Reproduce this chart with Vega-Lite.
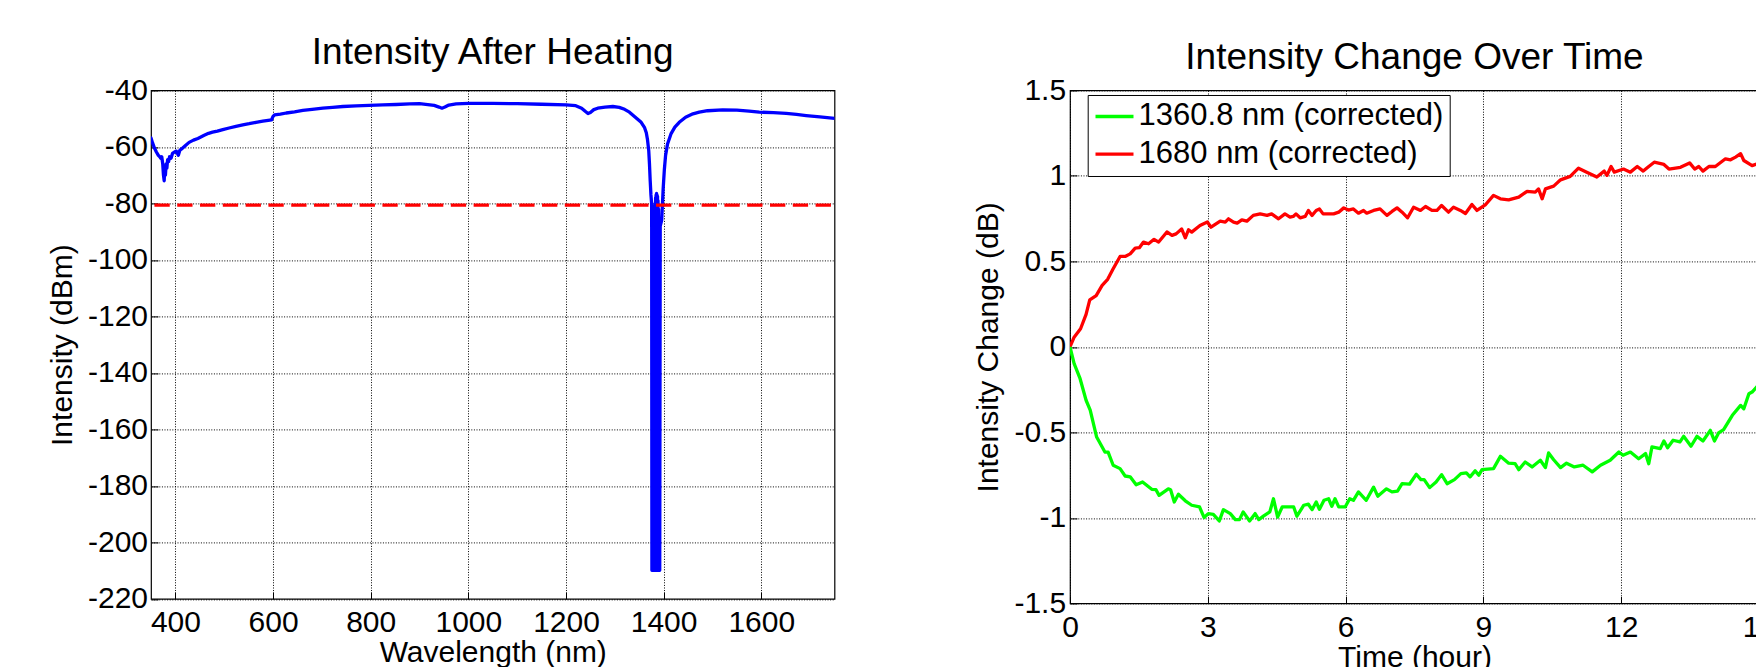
{
  "$schema": "https://vega.github.io/schema/vega-lite/v6.json",
  "padding": {"left": 46, "top": 33.4, "right": 0, "bottom": 0},
  "background": "#ffffff",
  "resolve": {"legend": {"color": "independent"}, "scale": {"color": "independent"}},
  "config": {
    "font": "Liberation Sans",
    "view": {"stroke": "#000000", "strokeWidth": 1.2},
    "axis": {
      "grid": true, "gridColor": "#000000", "gridDash": [1, 1.6], "gridWidth": 1, "gridOpacity": 1,
      "domain": false, "ticks": true, "tickSize": -7, "tickColor": "#000000", "tickWidth": 1,
      "labelFontSize": 30, "labelColor": "#000000", "labelOverlap": false, "labelFlush": false,
      "titleFontSize": 30, "titleFontWeight": "normal", "titleColor": "#000000",
      "labelExpr": "'' + datum.value"
    },
    "title": {"fontSize": 37, "fontWeight": "normal", "color": "#000000", "baseline": "alphabetic", "anchor": "middle", "frame": "group"},
    "concat": {"spacing": 136}
  },
  "datasets": {
    "spectrum": [
      {"wavelength": 350, "intensity": -56.8}, {"wavelength": 353, "intensity": -58.5}, {"wavelength": 357, "intensity": -60.4},
      {"wavelength": 361, "intensity": -61.8}, {"wavelength": 365, "intensity": -63}, {"wavelength": 368, "intensity": -63.5},
      {"wavelength": 370, "intensity": -64}, {"wavelength": 372, "intensity": -63.5}, {"wavelength": 374, "intensity": -66},
      {"wavelength": 375.5, "intensity": -70}, {"wavelength": 377, "intensity": -72}, {"wavelength": 378, "intensity": -68},
      {"wavelength": 379.5, "intensity": -70}, {"wavelength": 381, "intensity": -66}, {"wavelength": 382.5, "intensity": -67.5},
      {"wavelength": 384, "intensity": -64.5}, {"wavelength": 386, "intensity": -65.2}, {"wavelength": 388, "intensity": -63.5},
      {"wavelength": 391, "intensity": -64}, {"wavelength": 394, "intensity": -62.3}, {"wavelength": 398, "intensity": -61.8},
      {"wavelength": 402, "intensity": -61.5}, {"wavelength": 406, "intensity": -63}, {"wavelength": 409, "intensity": -61.2},
      {"wavelength": 412, "intensity": -60.8}, {"wavelength": 420, "intensity": -59.6}, {"wavelength": 428, "intensity": -58.4},
      {"wavelength": 437, "intensity": -57.6}, {"wavelength": 446, "intensity": -57}, {"wavelength": 459, "intensity": -55.9},
      {"wavelength": 468, "intensity": -55.2}, {"wavelength": 476, "intensity": -54.8}, {"wavelength": 486, "intensity": -54.4},
      {"wavelength": 497, "intensity": -53.9}, {"wavelength": 510, "intensity": -53.3}, {"wavelength": 524, "intensity": -52.7},
      {"wavelength": 538, "intensity": -52.2}, {"wavelength": 551, "intensity": -51.8}, {"wavelength": 565, "intensity": -51.3},
      {"wavelength": 579, "intensity": -50.9}, {"wavelength": 590, "intensity": -50.6}, {"wavelength": 597, "intensity": -50.4},
      {"wavelength": 600, "intensity": -49.2}, {"wavelength": 603, "intensity": -48.7}, {"wavelength": 615, "intensity": -48.4},
      {"wavelength": 627, "intensity": -48}, {"wavelength": 644, "intensity": -47.6}, {"wavelength": 661, "intensity": -47.1},
      {"wavelength": 680, "intensity": -46.7}, {"wavelength": 702, "intensity": -46.3}, {"wavelength": 722, "intensity": -46},
      {"wavelength": 743, "intensity": -45.7}, {"wavelength": 770, "intensity": -45.5}, {"wavelength": 797, "intensity": -45.3},
      {"wavelength": 825, "intensity": -45.1}, {"wavelength": 852, "intensity": -45}, {"wavelength": 880, "intensity": -44.8},
      {"wavelength": 900, "intensity": -44.7}, {"wavelength": 917, "intensity": -45}, {"wavelength": 930, "intensity": -45.3},
      {"wavelength": 940, "intensity": -45.9}, {"wavelength": 946, "intensity": -46.3}, {"wavelength": 952, "intensity": -45.9},
      {"wavelength": 960, "intensity": -45.2}, {"wavelength": 975, "intensity": -44.8}, {"wavelength": 1000, "intensity": -44.6},
      {"wavelength": 1050, "intensity": -44.6}, {"wavelength": 1100, "intensity": -44.7}, {"wavelength": 1150, "intensity": -44.9},
      {"wavelength": 1200, "intensity": -45.1}, {"wavelength": 1220, "intensity": -45.4}, {"wavelength": 1232, "intensity": -46.3},
      {"wavelength": 1240, "intensity": -47.5}, {"wavelength": 1245, "intensity": -48.2}, {"wavelength": 1250, "intensity": -47.8},
      {"wavelength": 1257, "intensity": -46.8}, {"wavelength": 1265, "intensity": -46.3}, {"wavelength": 1280, "intensity": -45.9},
      {"wavelength": 1296, "intensity": -45.7}, {"wavelength": 1309, "intensity": -46}, {"wavelength": 1320, "intensity": -46.7},
      {"wavelength": 1330, "intensity": -47.7}, {"wavelength": 1342, "intensity": -49.5}, {"wavelength": 1354, "intensity": -51.3},
      {"wavelength": 1361, "intensity": -53.2}, {"wavelength": 1364.5, "intensity": -55}, {"wavelength": 1367, "intensity": -57.5},
      {"wavelength": 1369.5, "intensity": -61.3}, {"wavelength": 1371, "intensity": -66}, {"wavelength": 1372.5, "intensity": -72},
      {"wavelength": 1374, "intensity": -77}, {"wavelength": 1375.5, "intensity": -80.2},
      {"wavelength": 1376, "intensity": -209.9}, {"wavelength": 1376.5, "intensity": -81},
      {"wavelength": 1377, "intensity": -209.9}, {"wavelength": 1377.5, "intensity": -84},
      {"wavelength": 1378, "intensity": -209.9}, {"wavelength": 1378.5, "intensity": -86},
      {"wavelength": 1379, "intensity": -209.9}, {"wavelength": 1379.5, "intensity": -88},
      {"wavelength": 1380, "intensity": -209.9}, {"wavelength": 1380.5, "intensity": -86},
      {"wavelength": 1381, "intensity": -209.9}, {"wavelength": 1381.5, "intensity": -83},
      {"wavelength": 1382, "intensity": -209.9}, {"wavelength": 1382.5, "intensity": -80},
      {"wavelength": 1383, "intensity": -209.9}, {"wavelength": 1383.5, "intensity": -78},
      {"wavelength": 1384, "intensity": -209.9}, {"wavelength": 1384.5, "intensity": -77},
      {"wavelength": 1385, "intensity": -209.9}, {"wavelength": 1385.5, "intensity": -76.5},
      {"wavelength": 1386, "intensity": -209.9}, {"wavelength": 1386.5, "intensity": -77},
      {"wavelength": 1387, "intensity": -209.9}, {"wavelength": 1387.5, "intensity": -77.5},
      {"wavelength": 1388, "intensity": -209.9}, {"wavelength": 1388.5, "intensity": -79},
      {"wavelength": 1389, "intensity": -209.9}, {"wavelength": 1389.5, "intensity": -82},
      {"wavelength": 1390, "intensity": -209.9}, {"wavelength": 1390.5, "intensity": -86},
      {"wavelength": 1391, "intensity": -209.9}, {"wavelength": 1391.5, "intensity": -88},
      {"wavelength": 1392, "intensity": -209.9}, {"wavelength": 1393, "intensity": -88},
      {"wavelength": 1396, "intensity": -86}, {"wavelength": 1399, "intensity": -75}, {"wavelength": 1401.5, "intensity": -68},
      {"wavelength": 1404, "intensity": -63}, {"wavelength": 1408, "intensity": -59}, {"wavelength": 1415, "intensity": -55.4},
      {"wavelength": 1423, "intensity": -53}, {"wavelength": 1432, "intensity": -51.3}, {"wavelength": 1445, "intensity": -49.5},
      {"wavelength": 1460, "intensity": -48.3}, {"wavelength": 1473, "intensity": -47.7}, {"wavelength": 1490, "intensity": -47.2},
      {"wavelength": 1521, "intensity": -46.9}, {"wavelength": 1550, "intensity": -47}, {"wavelength": 1575, "intensity": -47.3},
      {"wavelength": 1596, "intensity": -47.7}, {"wavelength": 1625, "intensity": -47.9}, {"wavelength": 1651, "intensity": -48.1},
      {"wavelength": 1672, "intensity": -48.5}, {"wavelength": 1692, "intensity": -48.9}, {"wavelength": 1720, "intensity": -49.4},
      {"wavelength": 1750, "intensity": -49.9}
    ],
    "threshold": [
      {"start": 357, "end": 1750, "level": -80.6}
    ],
    "timeseries": [
      {"hour": 0, "change": 0, "series": "1680 nm (corrected)"},
      {"hour": 0.09, "change": 0.057, "series": "1680 nm (corrected)"},
      {"hour": 0.23, "change": 0.106, "series": "1680 nm (corrected)"},
      {"hour": 0.35, "change": 0.19, "series": "1680 nm (corrected)"},
      {"hour": 0.43, "change": 0.275, "series": "1680 nm (corrected)"},
      {"hour": 0.57, "change": 0.3, "series": "1680 nm (corrected)"},
      {"hour": 0.7, "change": 0.36, "series": "1680 nm (corrected)"},
      {"hour": 0.82, "change": 0.395, "series": "1680 nm (corrected)"},
      {"hour": 0.94, "change": 0.457, "series": "1680 nm (corrected)"},
      {"hour": 1.09, "change": 0.529, "series": "1680 nm (corrected)"},
      {"hour": 1.2, "change": 0.529, "series": "1680 nm (corrected)"},
      {"hour": 1.31, "change": 0.544, "series": "1680 nm (corrected)"},
      {"hour": 1.42, "change": 0.578, "series": "1680 nm (corrected)"},
      {"hour": 1.51, "change": 0.58, "series": "1680 nm (corrected)"},
      {"hour": 1.6, "change": 0.613, "series": "1680 nm (corrected)"},
      {"hour": 1.71, "change": 0.603, "series": "1680 nm (corrected)"},
      {"hour": 1.83, "change": 0.629, "series": "1680 nm (corrected)"},
      {"hour": 1.93, "change": 0.613, "series": "1680 nm (corrected)"},
      {"hour": 2.11, "change": 0.672, "series": "1680 nm (corrected)"},
      {"hour": 2.22, "change": 0.652, "series": "1680 nm (corrected)"},
      {"hour": 2.31, "change": 0.661, "series": "1680 nm (corrected)"},
      {"hour": 2.43, "change": 0.69, "series": "1680 nm (corrected)"},
      {"hour": 2.51, "change": 0.638, "series": "1680 nm (corrected)"},
      {"hour": 2.58, "change": 0.685, "series": "1680 nm (corrected)"},
      {"hour": 2.65, "change": 0.671, "series": "1680 nm (corrected)"},
      {"hour": 2.83, "change": 0.71, "series": "1680 nm (corrected)"},
      {"hour": 2.99, "change": 0.73, "series": "1680 nm (corrected)"},
      {"hour": 3.07, "change": 0.7, "series": "1680 nm (corrected)"},
      {"hour": 3.27, "change": 0.735, "series": "1680 nm (corrected)"},
      {"hour": 3.38, "change": 0.73, "series": "1680 nm (corrected)"},
      {"hour": 3.45, "change": 0.749, "series": "1680 nm (corrected)"},
      {"hour": 3.56, "change": 0.73, "series": "1680 nm (corrected)"},
      {"hour": 3.64, "change": 0.724, "series": "1680 nm (corrected)"},
      {"hour": 3.74, "change": 0.743, "series": "1680 nm (corrected)"},
      {"hour": 3.85, "change": 0.735, "series": "1680 nm (corrected)"},
      {"hour": 3.99, "change": 0.769, "series": "1680 nm (corrected)"},
      {"hour": 4.14, "change": 0.778, "series": "1680 nm (corrected)"},
      {"hour": 4.29, "change": 0.769, "series": "1680 nm (corrected)"},
      {"hour": 4.39, "change": 0.778, "series": "1680 nm (corrected)"},
      {"hour": 4.54, "change": 0.749, "series": "1680 nm (corrected)"},
      {"hour": 4.68, "change": 0.778, "series": "1680 nm (corrected)"},
      {"hour": 4.79, "change": 0.759, "series": "1680 nm (corrected)"},
      {"hour": 4.86, "change": 0.763, "series": "1680 nm (corrected)"},
      {"hour": 4.92, "change": 0.778, "series": "1680 nm (corrected)"},
      {"hour": 5.01, "change": 0.755, "series": "1680 nm (corrected)"},
      {"hour": 5.12, "change": 0.763, "series": "1680 nm (corrected)"},
      {"hour": 5.19, "change": 0.798, "series": "1680 nm (corrected)"},
      {"hour": 5.27, "change": 0.769, "series": "1680 nm (corrected)"},
      {"hour": 5.36, "change": 0.798, "series": "1680 nm (corrected)"},
      {"hour": 5.43, "change": 0.807, "series": "1680 nm (corrected)"},
      {"hour": 5.51, "change": 0.778, "series": "1680 nm (corrected)"},
      {"hour": 5.63, "change": 0.778, "series": "1680 nm (corrected)"},
      {"hour": 5.74, "change": 0.778, "series": "1680 nm (corrected)"},
      {"hour": 5.85, "change": 0.788, "series": "1680 nm (corrected)"},
      {"hour": 5.96, "change": 0.813, "series": "1680 nm (corrected)"},
      {"hour": 6.06, "change": 0.8, "series": "1680 nm (corrected)"},
      {"hour": 6.17, "change": 0.807, "series": "1680 nm (corrected)"},
      {"hour": 6.28, "change": 0.782, "series": "1680 nm (corrected)"},
      {"hour": 6.39, "change": 0.798, "series": "1680 nm (corrected)"},
      {"hour": 6.46, "change": 0.782, "series": "1680 nm (corrected)"},
      {"hour": 6.61, "change": 0.798, "series": "1680 nm (corrected)"},
      {"hour": 6.75, "change": 0.807, "series": "1680 nm (corrected)"},
      {"hour": 6.9, "change": 0.769, "series": "1680 nm (corrected)"},
      {"hour": 7.01, "change": 0.792, "series": "1680 nm (corrected)"},
      {"hour": 7.12, "change": 0.813, "series": "1680 nm (corrected)"},
      {"hour": 7.23, "change": 0.788, "series": "1680 nm (corrected)"},
      {"hour": 7.35, "change": 0.755, "series": "1680 nm (corrected)"},
      {"hour": 7.48, "change": 0.817, "series": "1680 nm (corrected)"},
      {"hour": 7.63, "change": 0.798, "series": "1680 nm (corrected)"},
      {"hour": 7.74, "change": 0.821, "series": "1680 nm (corrected)"},
      {"hour": 7.88, "change": 0.798, "series": "1680 nm (corrected)"},
      {"hour": 7.99, "change": 0.798, "series": "1680 nm (corrected)"},
      {"hour": 8.09, "change": 0.827, "series": "1680 nm (corrected)"},
      {"hour": 8.24, "change": 0.788, "series": "1680 nm (corrected)"},
      {"hour": 8.35, "change": 0.817, "series": "1680 nm (corrected)"},
      {"hour": 8.5, "change": 0.798, "series": "1680 nm (corrected)"},
      {"hour": 8.61, "change": 0.78, "series": "1680 nm (corrected)"},
      {"hour": 8.75, "change": 0.833, "series": "1680 nm (corrected)"},
      {"hour": 8.86, "change": 0.798, "series": "1680 nm (corrected)"},
      {"hour": 9.04, "change": 0.83, "series": "1680 nm (corrected)"},
      {"hour": 9.22, "change": 0.886, "series": "1680 nm (corrected)"},
      {"hour": 9.37, "change": 0.866, "series": "1680 nm (corrected)"},
      {"hour": 9.55, "change": 0.86, "series": "1680 nm (corrected)"},
      {"hour": 9.77, "change": 0.876, "series": "1680 nm (corrected)"},
      {"hour": 9.95, "change": 0.91, "series": "1680 nm (corrected)"},
      {"hour": 10.13, "change": 0.905, "series": "1680 nm (corrected)"},
      {"hour": 10.2, "change": 0.924, "series": "1680 nm (corrected)"},
      {"hour": 10.28, "change": 0.866, "series": "1680 nm (corrected)"},
      {"hour": 10.35, "change": 0.924, "series": "1680 nm (corrected)"},
      {"hour": 10.53, "change": 0.94, "series": "1680 nm (corrected)"},
      {"hour": 10.68, "change": 0.977, "series": "1680 nm (corrected)"},
      {"hour": 10.89, "change": 0.997, "series": "1680 nm (corrected)"},
      {"hour": 11.07, "change": 1.045, "series": "1680 nm (corrected)"},
      {"hour": 11.25, "change": 1.022, "series": "1680 nm (corrected)"},
      {"hour": 11.47, "change": 0.993, "series": "1680 nm (corrected)"},
      {"hour": 11.63, "change": 1.028, "series": "1680 nm (corrected)"},
      {"hour": 11.69, "change": 1.003, "series": "1680 nm (corrected)"},
      {"hour": 11.78, "change": 1.055, "series": "1680 nm (corrected)"},
      {"hour": 11.85, "change": 1.022, "series": "1680 nm (corrected)"},
      {"hour": 12.05, "change": 1.04, "series": "1680 nm (corrected)"},
      {"hour": 12.2, "change": 1.022, "series": "1680 nm (corrected)"},
      {"hour": 12.35, "change": 1.055, "series": "1680 nm (corrected)"},
      {"hour": 12.48, "change": 1.028, "series": "1680 nm (corrected)"},
      {"hour": 12.6, "change": 1.055, "series": "1680 nm (corrected)"},
      {"hour": 12.72, "change": 1.08, "series": "1680 nm (corrected)"},
      {"hour": 12.93, "change": 1.067, "series": "1680 nm (corrected)"},
      {"hour": 13.04, "change": 1.04, "series": "1680 nm (corrected)"},
      {"hour": 13.29, "change": 1.05, "series": "1680 nm (corrected)"},
      {"hour": 13.49, "change": 1.076, "series": "1680 nm (corrected)"},
      {"hour": 13.6, "change": 1.04, "series": "1680 nm (corrected)"},
      {"hour": 13.69, "change": 1.055, "series": "1680 nm (corrected)"},
      {"hour": 13.78, "change": 1.028, "series": "1680 nm (corrected)"},
      {"hour": 13.91, "change": 1.055, "series": "1680 nm (corrected)"},
      {"hour": 14.05, "change": 1.055, "series": "1680 nm (corrected)"},
      {"hour": 14.27, "change": 1.1, "series": "1680 nm (corrected)"},
      {"hour": 14.38, "change": 1.094, "series": "1680 nm (corrected)"},
      {"hour": 14.49, "change": 1.11, "series": "1680 nm (corrected)"},
      {"hour": 14.6, "change": 1.13, "series": "1680 nm (corrected)"},
      {"hour": 14.67, "change": 1.09, "series": "1680 nm (corrected)"},
      {"hour": 14.85, "change": 1.06, "series": "1680 nm (corrected)"},
      {"hour": 15, "change": 1.075, "series": "1680 nm (corrected)"},
      {"hour": 0, "change": 0, "series": "1360.8 nm (corrected)"},
      {"hour": 0.09, "change": -0.098, "series": "1360.8 nm (corrected)"},
      {"hour": 0.22, "change": -0.186, "series": "1360.8 nm (corrected)"},
      {"hour": 0.35, "change": -0.312, "series": "1360.8 nm (corrected)"},
      {"hour": 0.44, "change": -0.37, "series": "1360.8 nm (corrected)"},
      {"hour": 0.58, "change": -0.527, "series": "1360.8 nm (corrected)"},
      {"hour": 0.76, "change": -0.615, "series": "1360.8 nm (corrected)"},
      {"hour": 0.83, "change": -0.615, "series": "1360.8 nm (corrected)"},
      {"hour": 0.94, "change": -0.692, "series": "1360.8 nm (corrected)"},
      {"hour": 1.09, "change": -0.712, "series": "1360.8 nm (corrected)"},
      {"hour": 1.2, "change": -0.755, "series": "1360.8 nm (corrected)"},
      {"hour": 1.31, "change": -0.76, "series": "1360.8 nm (corrected)"},
      {"hour": 1.44, "change": -0.806, "series": "1360.8 nm (corrected)"},
      {"hour": 1.58, "change": -0.79, "series": "1360.8 nm (corrected)"},
      {"hour": 1.78, "change": -0.833, "series": "1360.8 nm (corrected)"},
      {"hour": 1.87, "change": -0.835, "series": "1360.8 nm (corrected)"},
      {"hour": 1.94, "change": -0.868, "series": "1360.8 nm (corrected)"},
      {"hour": 2.14, "change": -0.83, "series": "1360.8 nm (corrected)"},
      {"hour": 2.19, "change": -0.835, "series": "1360.8 nm (corrected)"},
      {"hour": 2.27, "change": -0.907, "series": "1360.8 nm (corrected)"},
      {"hour": 2.36, "change": -0.862, "series": "1360.8 nm (corrected)"},
      {"hour": 2.51, "change": -0.9, "series": "1360.8 nm (corrected)"},
      {"hour": 2.65, "change": -0.926, "series": "1360.8 nm (corrected)"},
      {"hour": 2.82, "change": -0.936, "series": "1360.8 nm (corrected)"},
      {"hour": 2.92, "change": -0.998, "series": "1360.8 nm (corrected)"},
      {"hour": 3.01, "change": -0.975, "series": "1360.8 nm (corrected)"},
      {"hour": 3.12, "change": -0.979, "series": "1360.8 nm (corrected)"},
      {"hour": 3.25, "change": -1.018, "series": "1360.8 nm (corrected)"},
      {"hour": 3.34, "change": -0.952, "series": "1360.8 nm (corrected)"},
      {"hour": 3.49, "change": -0.975, "series": "1360.8 nm (corrected)"},
      {"hour": 3.6, "change": -1.01, "series": "1360.8 nm (corrected)"},
      {"hour": 3.69, "change": -1.01, "series": "1360.8 nm (corrected)"},
      {"hour": 3.77, "change": -0.965, "series": "1360.8 nm (corrected)"},
      {"hour": 3.91, "change": -1.018, "series": "1360.8 nm (corrected)"},
      {"hour": 4.03, "change": -0.975, "series": "1360.8 nm (corrected)"},
      {"hour": 4.11, "change": -1.01, "series": "1360.8 nm (corrected)"},
      {"hour": 4.21, "change": -0.99, "series": "1360.8 nm (corrected)"},
      {"hour": 4.35, "change": -0.965, "series": "1360.8 nm (corrected)"},
      {"hour": 4.43, "change": -0.888, "series": "1360.8 nm (corrected)"},
      {"hour": 4.52, "change": -0.995, "series": "1360.8 nm (corrected)"},
      {"hour": 4.62, "change": -0.936, "series": "1360.8 nm (corrected)"},
      {"hour": 4.87, "change": -0.936, "series": "1360.8 nm (corrected)"},
      {"hour": 4.94, "change": -0.99, "series": "1360.8 nm (corrected)"},
      {"hour": 5.09, "change": -0.926, "series": "1360.8 nm (corrected)"},
      {"hour": 5.19, "change": -0.92, "series": "1360.8 nm (corrected)"},
      {"hour": 5.27, "change": -0.952, "series": "1360.8 nm (corrected)"},
      {"hour": 5.36, "change": -0.907, "series": "1360.8 nm (corrected)"},
      {"hour": 5.43, "change": -0.95, "series": "1360.8 nm (corrected)"},
      {"hour": 5.53, "change": -0.897, "series": "1360.8 nm (corrected)"},
      {"hour": 5.63, "change": -0.888, "series": "1360.8 nm (corrected)"},
      {"hour": 5.7, "change": -0.932, "series": "1360.8 nm (corrected)"},
      {"hour": 5.77, "change": -0.888, "series": "1360.8 nm (corrected)"},
      {"hour": 5.85, "change": -0.936, "series": "1360.8 nm (corrected)"},
      {"hour": 5.99, "change": -0.936, "series": "1360.8 nm (corrected)"},
      {"hour": 6.09, "change": -0.888, "series": "1360.8 nm (corrected)"},
      {"hour": 6.17, "change": -0.897, "series": "1360.8 nm (corrected)"},
      {"hour": 6.28, "change": -0.848, "series": "1360.8 nm (corrected)"},
      {"hour": 6.45, "change": -0.897, "series": "1360.8 nm (corrected)"},
      {"hour": 6.61, "change": -0.82, "series": "1360.8 nm (corrected)"},
      {"hour": 6.7, "change": -0.873, "series": "1360.8 nm (corrected)"},
      {"hour": 6.89, "change": -0.83, "series": "1360.8 nm (corrected)"},
      {"hour": 7.01, "change": -0.848, "series": "1360.8 nm (corrected)"},
      {"hour": 7.13, "change": -0.843, "series": "1360.8 nm (corrected)"},
      {"hour": 7.23, "change": -0.8, "series": "1360.8 nm (corrected)"},
      {"hour": 7.39, "change": -0.803, "series": "1360.8 nm (corrected)"},
      {"hour": 7.54, "change": -0.745, "series": "1360.8 nm (corrected)"},
      {"hour": 7.64, "change": -0.776, "series": "1360.8 nm (corrected)"},
      {"hour": 7.71, "change": -0.776, "series": "1360.8 nm (corrected)"},
      {"hour": 7.83, "change": -0.823, "series": "1360.8 nm (corrected)"},
      {"hour": 7.97, "change": -0.79, "series": "1360.8 nm (corrected)"},
      {"hour": 8.09, "change": -0.747, "series": "1360.8 nm (corrected)"},
      {"hour": 8.21, "change": -0.8, "series": "1360.8 nm (corrected)"},
      {"hour": 8.37, "change": -0.776, "series": "1360.8 nm (corrected)"},
      {"hour": 8.51, "change": -0.741, "series": "1360.8 nm (corrected)"},
      {"hour": 8.63, "change": -0.737, "series": "1360.8 nm (corrected)"},
      {"hour": 8.71, "change": -0.76, "series": "1360.8 nm (corrected)"},
      {"hour": 8.82, "change": -0.725, "series": "1360.8 nm (corrected)"},
      {"hour": 8.9, "change": -0.75, "series": "1360.8 nm (corrected)"},
      {"hour": 8.97, "change": -0.718, "series": "1360.8 nm (corrected)"},
      {"hour": 9.22, "change": -0.712, "series": "1360.8 nm (corrected)"},
      {"hour": 9.37, "change": -0.64, "series": "1360.8 nm (corrected)"},
      {"hour": 9.55, "change": -0.68, "series": "1360.8 nm (corrected)"},
      {"hour": 9.69, "change": -0.683, "series": "1360.8 nm (corrected)"},
      {"hour": 9.77, "change": -0.718, "series": "1360.8 nm (corrected)"},
      {"hour": 9.91, "change": -0.673, "series": "1360.8 nm (corrected)"},
      {"hour": 10.06, "change": -0.702, "series": "1360.8 nm (corrected)"},
      {"hour": 10.24, "change": -0.663, "series": "1360.8 nm (corrected)"},
      {"hour": 10.35, "change": -0.706, "series": "1360.8 nm (corrected)"},
      {"hour": 10.42, "change": -0.62, "series": "1360.8 nm (corrected)"},
      {"hour": 10.53, "change": -0.66, "series": "1360.8 nm (corrected)"},
      {"hour": 10.68, "change": -0.706, "series": "1360.8 nm (corrected)"},
      {"hour": 10.81, "change": -0.68, "series": "1360.8 nm (corrected)"},
      {"hour": 10.98, "change": -0.702, "series": "1360.8 nm (corrected)"},
      {"hour": 11.17, "change": -0.692, "series": "1360.8 nm (corrected)"},
      {"hour": 11.37, "change": -0.731, "series": "1360.8 nm (corrected)"},
      {"hour": 11.55, "change": -0.692, "series": "1360.8 nm (corrected)"},
      {"hour": 11.76, "change": -0.663, "series": "1360.8 nm (corrected)"},
      {"hour": 11.95, "change": -0.615, "series": "1360.8 nm (corrected)"},
      {"hour": 12.04, "change": -0.634, "series": "1360.8 nm (corrected)"},
      {"hour": 12.2, "change": -0.615, "series": "1360.8 nm (corrected)"},
      {"hour": 12.38, "change": -0.654, "series": "1360.8 nm (corrected)"},
      {"hour": 12.53, "change": -0.624, "series": "1360.8 nm (corrected)"},
      {"hour": 12.6, "change": -0.683, "series": "1360.8 nm (corrected)"},
      {"hour": 12.67, "change": -0.585, "series": "1360.8 nm (corrected)"},
      {"hour": 12.85, "change": -0.595, "series": "1360.8 nm (corrected)"},
      {"hour": 12.93, "change": -0.55, "series": "1360.8 nm (corrected)"},
      {"hour": 13.01, "change": -0.59, "series": "1360.8 nm (corrected)"},
      {"hour": 13.13, "change": -0.546, "series": "1360.8 nm (corrected)"},
      {"hour": 13.28, "change": -0.556, "series": "1360.8 nm (corrected)"},
      {"hour": 13.36, "change": -0.523, "series": "1360.8 nm (corrected)"},
      {"hour": 13.52, "change": -0.581, "series": "1360.8 nm (corrected)"},
      {"hour": 13.65, "change": -0.523, "series": "1360.8 nm (corrected)"},
      {"hour": 13.78, "change": -0.55, "series": "1360.8 nm (corrected)"},
      {"hour": 13.94, "change": -0.488, "series": "1360.8 nm (corrected)"},
      {"hour": 14.03, "change": -0.55, "series": "1360.8 nm (corrected)"},
      {"hour": 14.12, "change": -0.503, "series": "1360.8 nm (corrected)"},
      {"hour": 14.23, "change": -0.484, "series": "1360.8 nm (corrected)"},
      {"hour": 14.42, "change": -0.4, "series": "1360.8 nm (corrected)"},
      {"hour": 14.6, "change": -0.342, "series": "1360.8 nm (corrected)"},
      {"hour": 14.67, "change": -0.362, "series": "1360.8 nm (corrected)"},
      {"hour": 14.78, "change": -0.274, "series": "1360.8 nm (corrected)"},
      {"hour": 14.85, "change": -0.264, "series": "1360.8 nm (corrected)"},
      {"hour": 15, "change": -0.22, "series": "1360.8 nm (corrected)"}
    ]
  },
  "hconcat": [
    {
      "width": 683.5,
      "height": 508.5,
      "title": {"text": "Intensity After Heating", "offset": 3.4},
      "layer": [
        {
          "data": {"name": "spectrum"},
          "mark": {"type": "line", "color": "#0000FF", "strokeWidth": 3.3, "strokeJoin": "round", "strokeCap": "round", "clip": true},
          "encoding": {
            "x": {"field": "wavelength", "type": "quantitative",
                  "scale": {"domain": [350, 1750], "nice": false, "zero": false},
                  "axis": {"values": [400, 600, 800, 1000, 1200, 1400, 1600], "title": "Wavelength (nm)", "labelPadding": 15.2, "titlePadding": 0}},
            "y": {"field": "intensity", "type": "quantitative",
                  "scale": {"domain": [-220, -40], "nice": false, "zero": false},
                  "axis": {"values": [-220, -200, -180, -160, -140, -120, -100, -80, -60, -40], "title": "Intensity (dBm)", "labelPadding": 10.5, "titlePadding": 10}}
          }
        },
        {
          "data": {"name": "threshold"},
          "mark": {"type": "rule", "color": "#FF0000", "strokeWidth": 3.3, "strokeDash": [15.3, 7.5]},
          "encoding": {
            "x": {"field": "start", "type": "quantitative"},
            "x2": {"field": "end"},
            "y": {"field": "level", "type": "quantitative"}
          }
        }
      ]
    },
    {
      "width": 689,
      "height": 513,
      "title": {"text": "Intensity Change Over Time", "offset": -1.2},
      "data": {"name": "timeseries"},
      "mark": {"type": "line", "strokeWidth": 3.3, "strokeJoin": "round", "clip": true},
      "encoding": {
        "x": {"field": "hour", "type": "quantitative",
              "scale": {"domain": [0, 15], "nice": false, "zero": false},
              "axis": {"values": [0, 3, 6, 9, 12, 15], "title": "Time (hour)", "labelPadding": 15.9, "titlePadding": 0}},
        "y": {"field": "change", "type": "quantitative",
              "scale": {"domain": [-1.5, 1.5], "nice": false, "zero": false},
              "axis": {"values": [-1.5, -1, -0.5, 0, 0.5, 1, 1.5], "title": "Intensity Change (dB)", "labelPadding": 11.4, "titlePadding": 10}},
        "color": {"field": "series", "type": "nominal",
                  "scale": {"domain": ["1360.8 nm (corrected)", "1680 nm (corrected)"], "range": ["#00FF00", "#FF0000"]},
                  "legend": {"orient": "none", "legendX": 17.7, "legendY": 4.6, "title": null,
                             "fillColor": "#FFFFFF", "strokeColor": "#000000", "padding": 6,
                             "labelFontSize": 31, "labelColor": "#000000", "labelLimit": 0,
                             "symbolType": "M-2,0H2", "symbolSize": 361, "symbolStrokeWidth": 3.3,
                             "symbolOffset": 5.3, "labelOffset": 8.6, "rowPadding": 5.7}},
        "order": {"field": "hour", "type": "quantitative"}
      }
    }
  ]
}
